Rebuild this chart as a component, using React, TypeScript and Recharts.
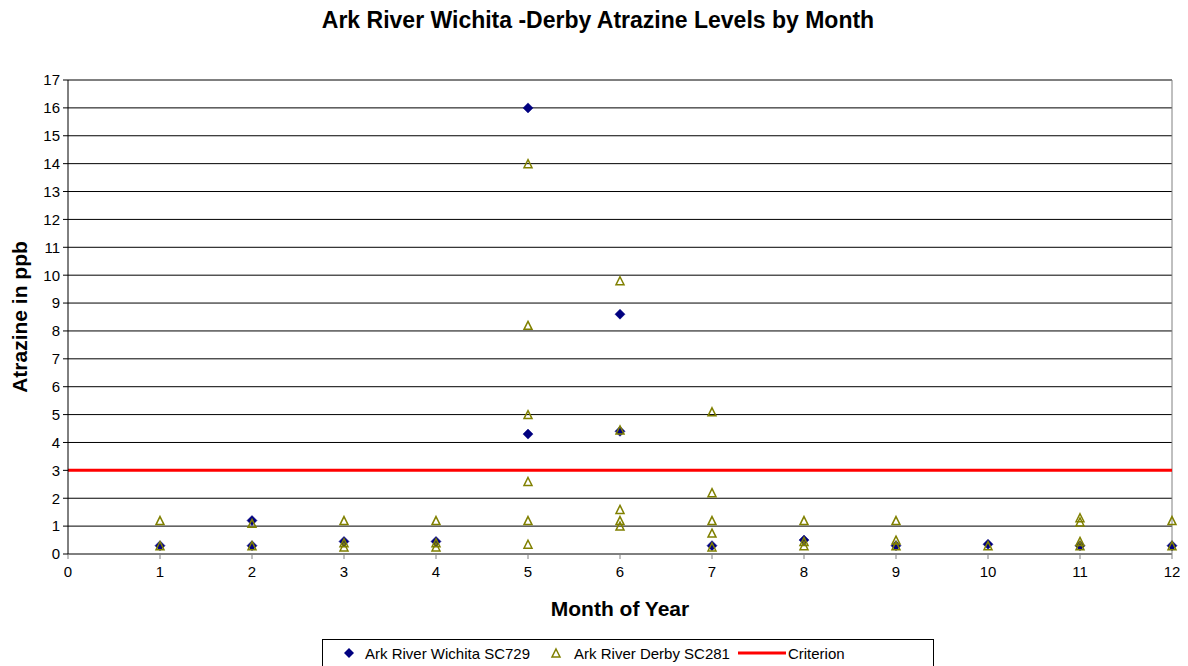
import React from "react";
import {
  ScatterChart,
  Scatter,
  XAxis,
  YAxis,
  CartesianGrid,
  ReferenceLine,
  Legend,
} from "recharts";

const CHART_TITLE = "Ark River Wichita -Derby Atrazine Levels by Month";
const X_LABEL = "Month of Year";
const Y_LABEL = "Atrazine in ppb";
const SERIES_WICHITA = "Ark River Wichita SC729";
const SERIES_DERBY = "Ark River Derby SC281";
const SERIES_CRITERION = "Criterion";
const CRITERION_VALUE = 3;

const xTicks = [0, 1, 2, 3, 4, 5, 6, 7, 8, 9, 10, 11, 12];
const yTicks = [0, 1, 2, 3, 4, 5, 6, 7, 8, 9, 10, 11, 12, 13, 14, 15, 16, 17];

const wichitaMonths = [1, 2, 2, 3, 4, 5, 5, 6, 6, 7, 8, 9, 10, 11, 12];
const wichitaPpb = [0.3, 1.2, 0.3, 0.45, 0.45, 16, 4.3, 8.6, 4.4, 0.3, 0.5, 0.3, 0.35, 0.3, 0.3];

const derbyMonths = [
  1, 1, 2, 2, 3, 3, 3, 4, 4, 4, 5, 5, 5, 5, 5, 5, 6, 6, 6, 6, 6, 7, 7, 7, 7, 7, 8, 8, 8, 9, 9, 9,
  10, 11, 11, 11, 11, 12, 12,
];
const derbyPpb = [
  1.2, 0.3, 1.1, 0.3, 1.2, 0.4, 0.25, 1.2, 0.4, 0.25, 14, 8.2, 5.0, 2.6, 1.2, 0.35, 9.8, 4.45, 1.6,
  1.2, 1.0, 5.1, 2.2, 1.2, 0.75, 0.25, 1.2, 0.45, 0.3, 1.2, 0.5, 0.3, 0.3, 1.3, 1.15, 0.45, 0.3,
  1.2, 0.3,
];

const wichitaData = wichitaMonths.map((m, i) => ({ month: m, ppb: wichitaPpb[i] }));
const derbyData = derbyMonths.map((m, i) => ({ month: m, ppb: derbyPpb[i] }));

const FONT = "Arial, 'Liberation Sans', sans-serif";
const NAVY = "#000080";
const OLIVE = "#808000";

const Diamond = (props: any) => {
  const { cx, cy } = props;
  if (cx == null || cy == null) return null;
  const r = 5;
  return (
    <polygon
      points={`${cx},${cy - r} ${cx + r},${cy} ${cx},${cy + r} ${cx - r},${cy}`}
      fill={NAVY}
      stroke={NAVY}
      strokeWidth={0.5}
    />
  );
};

const Triangle = (props: any) => {
  const { cx, cy } = props;
  if (cx == null || cy == null) return null;
  const h = 4;
  return (
    <polygon
      points={`${cx},${cy - h} ${cx + h},${cy + h} ${cx - h},${cy + h}`}
      fill="none"
      stroke={OLIVE}
      strokeWidth={1.5}
    />
  );
};

const LegendBox = () => (
  <div
    style={{
      position: "absolute",
      left: 314,
      top: 3,
      width: 612,
      height: 27,
      border: "1px solid #000",
      borderBottom: "none",
      boxSizing: "border-box",
      background: "#fff",
      fontFamily: FONT,
      fontSize: 15,
      color: "#000",
      display: "flex",
      alignItems: "center",
    }}
  >
    <svg width={12} height={12} style={{ marginLeft: 20 }}>
      <polygon points="6,1 11,6 6,11 1,6" fill={NAVY} />
    </svg>
    <span style={{ marginLeft: 10 }}>{SERIES_WICHITA}</span>
    <svg width={12} height={12} style={{ marginLeft: 20 }}>
      <polygon points="6,2 10,10 2,10" fill="none" stroke={OLIVE} strokeWidth={1.5} />
    </svg>
    <span style={{ marginLeft: 12 }}>{SERIES_DERBY}</span>
    <svg width={48} height={12} style={{ marginLeft: 8 }}>
      <line x1={0} y1={6} x2={48} y2={6} stroke="#ff0000" strokeWidth={3} />
    </svg>
    <span style={{ marginLeft: 2 }}>{SERIES_CRITERION}</span>
  </div>
);

export default function App() {
  return (
    <div style={{ position: "relative", width: 1180, height: 658, background: "#fff" }}>
      <div
        style={{
          position: "absolute",
          left: 0,
          top: -1,
          width: 1180,
          textAlign: "center",
          fontFamily: FONT,
          fontWeight: "bold",
          fontSize: 23,
          lineHeight: "26px",
          color: "#000",
        }}
      >
        {CHART_TITLE}
      </div>
      <ScatterChart
        width={1180}
        height={658}
        margin={{ top: 72, right: 16, left: 0, bottom: 0 }}
      >
        <CartesianGrid vertical={false} stroke="#000" strokeWidth={1} />
        <XAxis
          type="number"
          dataKey="month"
          domain={[0, 12]}
          ticks={xTicks}
          interval={0}
          height={82}
          stroke="#808080"
          tickSize={5}
          tickMargin={7}
          tick={{ fill: "#000", fontSize: 15, fontFamily: FONT }}
          label={{
            value: X_LABEL,
            position: "insideBottom",
            offset: 20,
            style: { fontFamily: FONT, fontWeight: "bold", fontSize: 21, fill: "#000" },
          }}
        />
        <YAxis
          type="number"
          dataKey="ppb"
          domain={[0, 17]}
          ticks={yTicks}
          interval={0}
          width={60}
          stroke="#000"
          tickSize={5}
          tickMargin={3}
          tick={{ fill: "#000", fontSize: 15, fontFamily: FONT }}
          label={{
            value: Y_LABEL,
            angle: -90,
            position: "insideLeft",
            offset: 12,
            style: {
              textAnchor: "middle",
              fontFamily: FONT,
              fontWeight: "bold",
              fontSize: 21,
              fill: "#000",
            },
          }}
        />
        <ReferenceLine x={12} stroke="#808080" strokeWidth={1} />
        <ReferenceLine y={CRITERION_VALUE} stroke="#ff0000" strokeWidth={3} />
        <Legend
          verticalAlign="bottom"
          align="left"
          height={30}
          wrapperStyle={{ left: 0, width: 1180, height: 30 }}
          content={() => <LegendBox />}
        />
        <Scatter
          name={SERIES_WICHITA}
          data={wichitaData}
          shape={Diamond}
          isAnimationActive={false}
        />
        <Scatter
          name={SERIES_DERBY}
          data={derbyData}
          shape={Triangle}
          isAnimationActive={false}
        />
      </ScatterChart>
    </div>
  );
}
